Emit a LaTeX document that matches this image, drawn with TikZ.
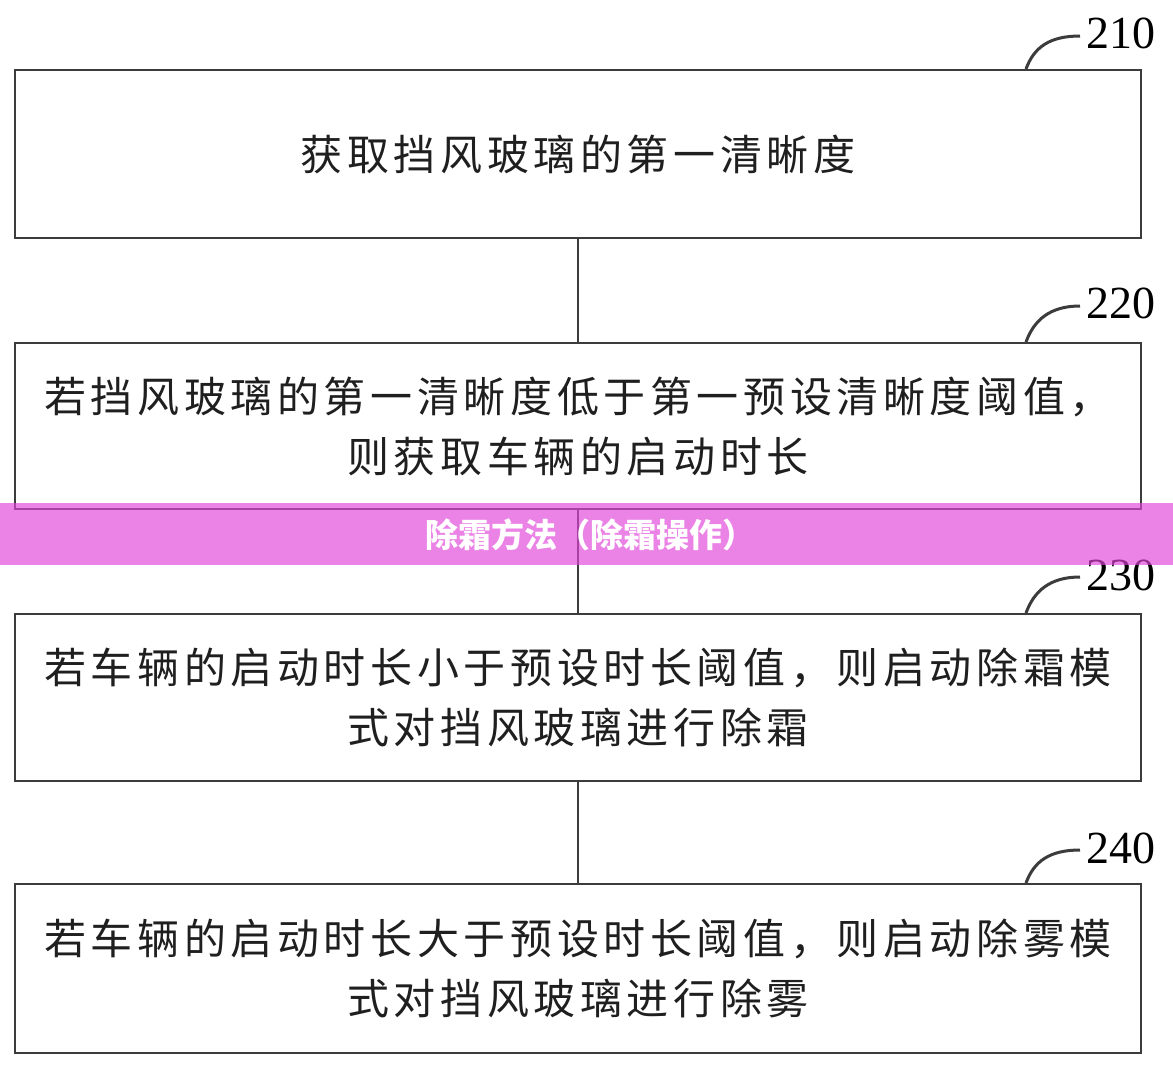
\documentclass[tikz,border=0pt]{standalone}
\usepackage{fontspec}
\newfontfamily\cjk[LetterSpace=11]{Noto Sans CJK SC}
\newfontfamily\cjkban{Noto Sans CJK SC}
\setmainfont{Liberation Serif}
\definecolor{edge}{HTML}{3C3C3C}
\definecolor{banner}{RGB}{226,68,218}
\tikzset{
  stepbox/.style={draw=edge, line width=2pt, minimum width=1126pt, inner sep=0pt,
    align=center, font=\cjk\fontsize{42}{60}\selectfont, text=black!88},
  link/.style={draw=edge, line width=2pt},
  callout/.style={draw=edge, line width=3pt},
  refnum/.style={font=\fontsize{46}{46}\selectfont, text=black, inner sep=0pt, anchor=west}
}
\begin{document}
\begin{tikzpicture}[x=1pt,y=-1pt]
\useasboundingbox[fill=white] (0,0) rectangle (1173,1068);
\node[stepbox, minimum height=168pt] (s1) at (578,154) {获取挡风玻璃的第一清晰度};
\node[stepbox, minimum height=166pt] (s2) at (578,426) {若挡风玻璃的第一清晰度低于第一预设清晰度阈值，\\则获取车辆的启动时长};
\node[stepbox, minimum height=167pt] (s3) at (578,697.5) {若车辆的启动时长小于预设时长阈值，则启动除霜模\\式对挡风玻璃进行除霜};
\node[stepbox, minimum height=169pt] (s4) at (578,968.5) {若车辆的启动时长大于预设时长阈值，则启动除雾模\\式对挡风玻璃进行除雾};
\draw[link] (s1.south) -- (s2.north);
\draw[link] (s2.south) -- (s3.north);
\draw[link] (s3.south) -- (s4.north);
% callouts
\coordinate (c1) at (1080,36);
\coordinate (c2) at (1080,306);
\coordinate (c3) at (1080,577);
\coordinate (c4) at (1080,850);
\node[refnum] (n1) at (1086,33) {210};
\node[refnum] (n2) at (1086,303) {220};
\node[refnum] (n3) at (1086,575) {230};
\node[refnum] (n4) at (1086,848) {240};
\draw[callout] ([xshift=-116pt]s1.north east) .. controls ++(8,-22) and ++(-30,0) .. (c1);
\draw[callout] ([xshift=-116pt]s2.north east) .. controls ++(8,-22) and ++(-30,0) .. (c2);
\draw[callout] ([xshift=-116pt]s3.north east) .. controls ++(8,-22) and ++(-30,0) .. (c3);
\draw[callout] ([xshift=-116pt]s4.north east) .. controls ++(8,-22) and ++(-30,0) .. (c4);
% banner overlay
\fill[banner, opacity=0.66] (0,503) rectangle (1173,565);
\node[font=\cjkban\bfseries\fontsize{33}{33}\selectfont, text=white, inner sep=0pt] (ban) at (590,535) {除霜方法（除霜操作）};
\end{tikzpicture}
\end{document}
